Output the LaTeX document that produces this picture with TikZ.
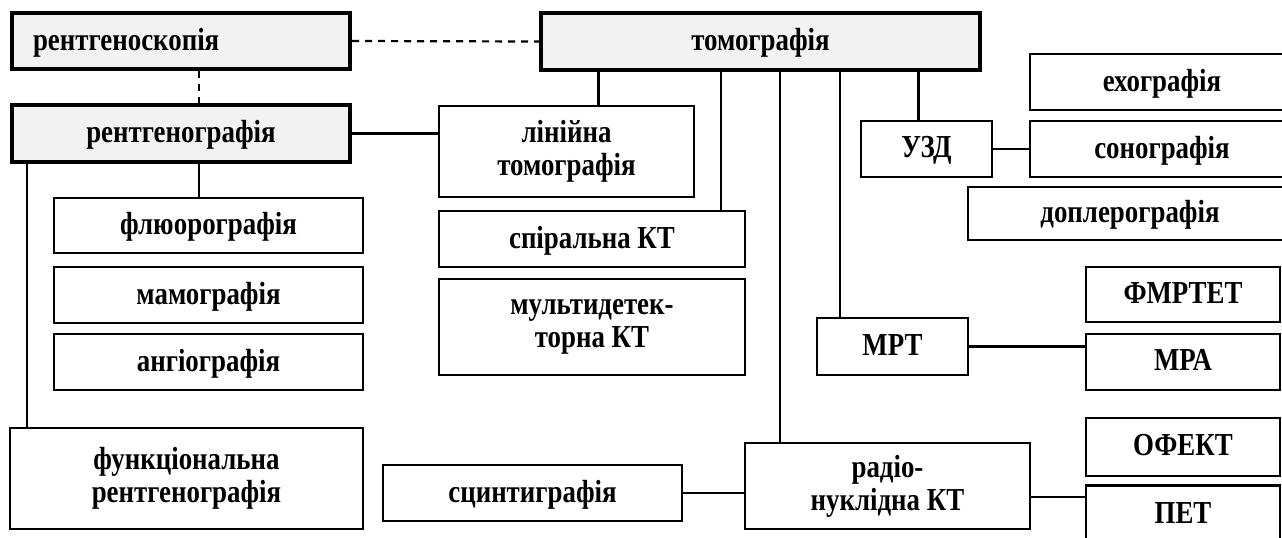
\documentclass[tikz,border=0pt]{standalone}
\usepackage{fontspec}
\setmainfont{Liberation Serif}[FakeStretch=0.84]
\usepackage{xcolor}
\definecolor{boxgray}{HTML}{F2F2F2}

\tikzset{
  base/.style={draw, line width=1.2pt, inner sep=2pt, align=center,
    font=\fontsize{16}{16.5}\selectfont\bfseries},
  gbox/.style={base, line width=2.2pt, fill=boxgray},
  wbox/.style={base, fill=white},
  lower/.style={text height=12pt, text depth=2.7pt},
  caps/.style={text height=10pt, text depth=1.5pt},
  link/.style={line width=1.1pt},
  dlink/.style={line width=1.1pt, dash pattern=on 3.5pt off 3pt}
}

\begin{document}
\begin{tikzpicture}[x=0.5pt, y=-0.5pt]
  \useasboundingbox (0,0) rectangle (1282,537);
  \clip (0,0) rectangle (1282,537);

  % Main blocks
  \node (skop) at (181,41) [gbox, lower, minimum width=169pt, minimum height=28pt,
    text width=148pt, inner xsep=10.5pt, align=left] {рентгеноскопія};
  \node (tom) at (760.5,41.5) [gbox, lower, minimum width=219.5pt, minimum height=28.5pt] {томографія};
  \node (rgr) at (181,133.5) [gbox, lower, minimum width=169pt, minimum height=28.5pt] {рентгенографія};

  % X-ray branch
  \node (flu) at (208.5,225.5) [wbox, lower, minimum width=154.5pt, minimum height=27.5pt] {флюорографія};
  \node (mam) at (208.5,295) [wbox, lower, minimum width=154.5pt, minimum height=28pt] {мамографія};
  \node (ang) at (208.5,362) [wbox, lower, minimum width=154.5pt, minimum height=28pt] {ангіографія};
  \node (func) at (186.5,478.5) [wbox, minimum width=176.5pt, minimum height=50.5pt] {функціональна\\рентгенографія};

  % Tomography branch
  \node (lin) at (566.5,151.5) [wbox, minimum width=127.5pt, minimum height=45.5pt] {лінійна\\томографія};
  \node (spi) at (592,239) [wbox, lower, minimum width=153pt, minimum height=28pt] {спіральна КТ};
  \node (mul) at (592,327) [wbox, minimum width=153pt, minimum height=48pt] {мультидетек-\\торна КТ};
  \node (scin) at (532.5,493) [wbox, lower, minimum width=149.5pt, minimum height=28pt] {сцинтиграфія};
  \node (rad) at (887.5,486) [wbox, minimum width=142.5pt, minimum height=43pt] {радіо-\\нуклідна КТ};
  \node (mrt) at (892.5,346.5) [wbox, caps, minimum width=75.5pt, minimum height=28.5pt] {МРТ};
  \node (uzd) at (926.5,149) [wbox, caps, minimum width=65.5pt, minimum height=28pt] {УЗД};

  % Right column
  \node (exo) at (1162,82) [wbox, lower, minimum width=132pt, minimum height=28pt] {ехографія};
  \node (son) at (1162,149) [wbox, lower, minimum width=132pt, minimum height=28pt] {сонографія};
  \node (dop) at (1130,213.5) [wbox, lower, minimum width=162pt, minimum height=26.5pt] {доплерографія};
  \node (fmr) at (1183,294.5) [wbox, caps, minimum width=97pt, minimum height=27.5pt] {ФМРТЕТ};
  \node (mra) at (1183,362) [wbox, caps, minimum width=97pt, minimum height=28pt] {МРА};
  \node (ofe) at (1183,447) [wbox, caps, minimum width=97pt, minimum height=29pt] {ОФЕКТ};
  \node (pet) at (1183,515) [wbox, caps, minimum width=97pt, minimum height=29.5pt] {ПЕТ};

  % Dashed links
  \draw[dlink] (skop.east) -- (tom.west);
  \draw[dlink] ([xshift=9pt]skop.south) -- ([xshift=9pt]rgr.north);

  % Links of рентгенографія
  \draw[link] (rgr.east) -- (rgr.east -| lin.west);
  \draw[link] ([xshift=9pt]rgr.south) -- ([xshift=9pt]rgr.south |- flu.north);
  \draw[link] ([xshift=8.5pt]rgr.south west) -- ([xshift=8.5pt]rgr.south west |- func.north);

  % Links of томографія
  \draw[link] ([xshift=16pt]lin.north) -- ([xshift=16pt]lin.north |- tom.south);
  \draw[link] ([xshift=-12.5pt]spi.north east) -- ([xshift=-12.5pt]spi.north east |- tom.south);
  \draw[link] ([xshift=18pt]rad.north west) -- ([xshift=18pt]rad.north west |- tom.south);
  \draw[link] ([xshift=12pt]mrt.north west) -- ([xshift=12pt]mrt.north west |- tom.south);
  \draw[link] ([xshift=-4pt]uzd.north) -- ([xshift=-4pt]uzd.north |- tom.south);

  % Side links
  \draw[link] (uzd.east) -- (uzd.east -| son.west);
  \draw[link] (mrt.east) -- (mrt.east -| mra.west);
  \draw[link] (scin.east) -- (scin.east -| rad.west);
  \draw[link] ([yshift=-5.5pt]rad.east) -- ([yshift=-5.5pt]rad.east -| pet.west);
\end{tikzpicture}
\end{document}
